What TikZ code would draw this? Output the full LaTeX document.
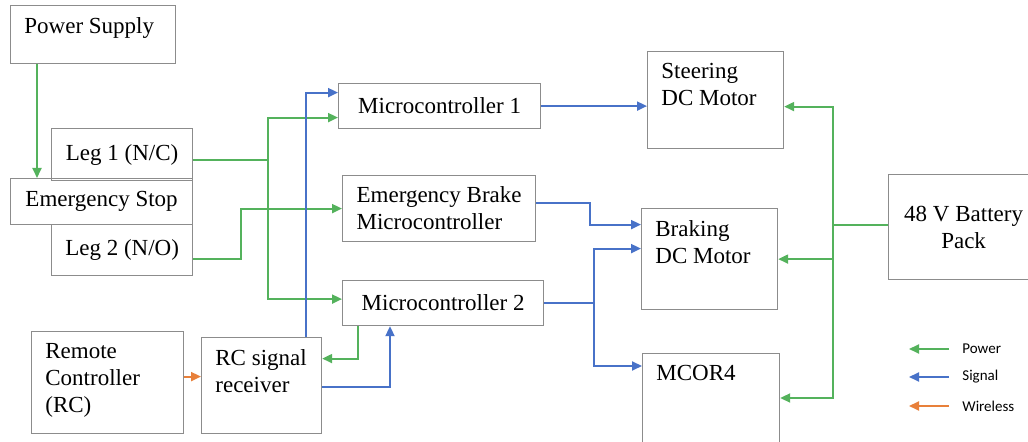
\documentclass[tikz,border=0pt]{standalone}
\usepackage{fontspec}
\setmainfont{Liberation Serif}
\newfontfamily\legendfont{Carlito}
\usepackage{xcolor}
\usetikzlibrary{arrows.meta}
\definecolor{powergreen}{RGB}{84,178,92}
\definecolor{signalblue}{RGB}{72,114,200}
\definecolor{wirelessorange}{RGB}{232,128,58}
\newcommand{\boxfont}{\fontsize{11.5}{13.5}\selectfont}
\tikzset{
  blockbox/.style={
    draw=black!45,
    line width=0.6pt,
    anchor=north west,
    inner sep=0pt,
    font=\boxfont
  },
  textbox/.style={blockbox,align=left},
  toptext/.style={
    anchor=north west,
    align=left,
    inner xsep=7pt,
    inner ysep=6pt,
    font=\boxfont
  },
  legendtext/.style={anchor=west,inner sep=0pt,font=\legendfont\fontsize{7.5}{9}\selectfont},
  powerline/.style={-{Triangle[length=5pt,width=4.5pt]},line width=1pt,draw=powergreen},
  signalline/.style={-{Triangle[length=5pt,width=4.5pt]},line width=1pt,draw=signalblue},
  wirelessline/.style={-{Triangle[length=5pt,width=4.5pt]},line width=1pt,draw=wirelessorange},
}
\begin{document}
\begin{tikzpicture}[x=0.5pt,y=-0.5pt]
  \useasboundingbox (0,0) rectangle (1028,442);
  \clip (0,0) rectangle (1028,442);

  % stop switch and supply
  \node[blockbox,minimum width=82.5pt,minimum height=29pt,
    label={[toptext]north west:Power Supply}] (power) at (10,5) {};
  \node[textbox,minimum width=70.5pt,minimum height=26pt] (legone) at (51,128) {Leg 1 (N/C)};
  \node[textbox,minimum width=70.5pt,minimum height=25.5pt] (legtwo) at (51,224) {Leg 2 (N/O)};
  \node[textbox,minimum width=91pt,minimum height=23pt] (estop) at (10,178) {Emergency Stop};

  % controllers
  \node[textbox,minimum width=101pt,minimum height=22.5pt] (mcone) at (338,83) {Microcontroller 1};
  \node[textbox,minimum width=96.5pt,minimum height=33pt] (ebrake) at (342,175) {
    Emergency Brake\\Microcontroller
  };
  \node[textbox,minimum width=100.5pt,minimum height=22.5pt] (mctwo) at (342,280) {Microcontroller 2};

  % remote side
  \node[blockbox,minimum width=76pt,minimum height=51pt,
    label={[toptext]north west:Remote\\Controller\\(RC)}] (remote) at (31,331) {};
  \node[blockbox,minimum width=60pt,minimum height=48pt,
    label={[toptext]north west:RC signal\\receiver}] (recv) at (201,337) {};

  % motors and battery
  \node[blockbox,minimum width=68pt,minimum height=48.5pt,
    label={[toptext]north west:Steering\\DC Motor}] (steer) at (647,51) {};
  \node[blockbox,minimum width=68pt,minimum height=50.5pt,
    label={[toptext]north west:Braking\\DC Motor}] (brake) at (641,208) {};
  \node[blockbox,minimum width=68.5pt,minimum height=50pt,
    label={[toptext]north west:MCOR4}] (mcor) at (642,353) {};
  \node[blockbox,align=center,minimum width=75pt,minimum height=52.5pt] (battery) at (888,174) {
    48 V Battery\\Pack
  };

  % power wiring
  \draw[powerline] ([xshift=13.5pt]power.south west) coordinate (psout) -- (psout |- estop.north);
  \draw[powerline] ([yshift=-2.5pt]legone.east) -- ++(75,0) coordinate (jone)
    |- ([yshift=-5.75pt]mcone.west);
  \draw[powerline] (jone) |- ([yshift=2pt]mctwo.west);
  \draw[powerline] ([yshift=-4.25pt]legtwo.east) -- ++(48,0) |- (ebrake.west);
  \draw[powerline] ([xshift=8pt]mctwo.south west) |- ([yshift=13.5pt]recv.east);
  \draw[powerline] ([yshift=1.25pt]battery.west) -- ++(-55,0) coordinate (jbat)
    |- ([yshift=-3.25pt]steer.east);
  \draw[powerline] (jbat) |- (brake.east);
  \draw[powerline] (jbat) |- ([yshift=-22.5pt]mcor.north east);

  % signal wiring
  \draw[signalline] ([xshift=22pt]recv.north) |- ([yshift=6.75pt]mcone.west);
  \draw[signalline] ([yshift=-0.5pt]recv.east) -| ([xshift=24pt]mctwo.south west);
  \draw[signalline] (mcone.east) -- (mcone.east -| steer.west);
  \draw[signalline] ([yshift=3pt]ebrake.east) -- ++(54,0) |- ([yshift=17.25pt]brake.west);
  \draw[signalline] (mctwo.east) -- ++(50,0) coordinate (jtwo) |- ([yshift=5.25pt]brake.west);
  \draw[signalline] (jtwo) |- ([yshift=-6.5pt]mcor.north west);

  % wireless link
  \path ([yshift=4.5pt]recv.west) coordinate (rxin);
  \draw[wirelessline] (rxin -| remote.east) -- (rxin);

  % legend
  \node[legendtext] (lgpower) at (962,349) {Power};
  \node[legendtext] (lgsignal) at (962,377) {Signal};
  \node[legendtext] (lgwireless) at (962,406) {Wireless};
  \draw[powerline] ([xshift=-6.5pt]lgpower.west) -- ++(-40,0);
  \draw[signalline] ([xshift=-6.5pt]lgsignal.west) -- ++(-40,0);
  \draw[wirelessline] ([xshift=-6.5pt]lgwireless.west) -- ++(-40,0);
\end{tikzpicture}
\end{document}
